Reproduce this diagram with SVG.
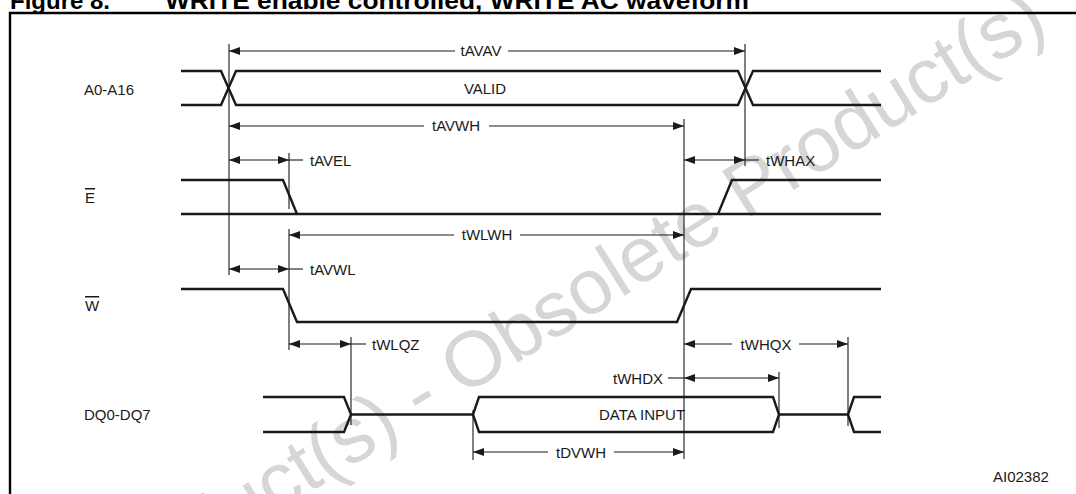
<svg xmlns="http://www.w3.org/2000/svg" width="1076" height="494" viewBox="0 0 1076 494">
<defs>
<marker id="ah" viewBox="0 0 11 8" refX="11" refY="4" markerWidth="11" markerHeight="8" markerUnits="userSpaceOnUse" orient="auto-start-reverse"><path d="M0,0 L11,4 L0,8 z" fill="#1a1a1a"/></marker>
</defs>
<style>
.sig{fill:none;stroke:#1a1a1a;stroke-width:2.4;stroke-linejoin:miter}
.dim{fill:none;stroke:#1a1a1a;stroke-width:1.1}
.s{marker-start:url(#ah)}
.e{marker-end:url(#ah)}
.b{marker-start:url(#ah);marker-end:url(#ah)}
.ref{fill:none;stroke:#1a1a1a;stroke-width:1.1}
text{font-family:"Liberation Sans",Arial,sans-serif;font-size:15px;fill:#1a1a1a}
.m{text-anchor:middle}
.r{text-anchor:end}
.t{font-weight:bold;font-size:24px;fill:#000}
.wm{font-size:78px;fill:#d6d6d6;text-anchor:middle}
</style>
<rect width="1076" height="494" fill="#fff"/>
<g id="watermark"><text class="wm" transform="translate(421,397) rotate(-32)" x="0" y="22">Obsolete Product(s) - Obsolete Product(s)</text></g>
<g id="title">
<text class="t" x="10" y="9">Figure 8.</text>
<text class="t" x="165" y="9" textLength="584" lengthAdjust="spacingAndGlyphs">WRITE enable controlled, WRITE AC waveform</text>
<path d="M10,494 V13 H1076" fill="none" stroke="#000" stroke-width="2.4"/>
</g>
<g id="labels">
<text x="84" y="95">A0-A16</text>
<text x="85" y="203" style="text-decoration:overline">E</text>
<text x="85" y="311" style="text-decoration:overline">W</text>
<text x="84" y="420">DQ0-DQ7</text>
</g>
<g id="sig-A">
<path class="sig" d="M181,71 H221 L236,105 H738 L753,71 H881"/>
<path class="sig" d="M181,105 H221 L236,71 H738 L753,105 H881"/>
<text class="m" x="485" y="94">VALID</text>
</g>
<g id="sig-E">
<path class="sig" d="M181,180 H283 L297,214"/>
<path class="sig" d="M181,214 H881"/>
<path class="sig" d="M718,214 L732,180 H881"/>
</g>
<g id="sig-W">
<path class="sig" d="M181,289 H283 L297,322 H677 L691,289 H881"/>
</g>
<g id="sig-DQ">
<path class="sig" d="M263,397 H344 L351,414.5 L344,432 H263"/>
<path class="sig" d="M351,414.5 H473"/>
<path class="sig" d="M773,397 H479 L473,414.5 L479,432 H773 L779,414.5 Z"/>
<path class="sig" d="M779,414.5 H848"/>
<path class="sig" d="M881,397 H854 L848,414.5 L854,432 H881"/>
<text class="m" x="642" y="420">DATA INPUT</text>
</g>
<g id="connectors">
<path class="ref" d="M229,44 V275 M745,44 V166 M684,119 V459 M289,153 V209 M289,229 V350 M351,337 V425 M848,337 V426 M779,372 V428 M473,410 V460"/>
<path class="dim s" d="M229,51 H455"/><path class="dim e" d="M508,51 H745"/>
<path class="dim s" d="M229,126 H424"/><path class="dim e" d="M489,126 H684"/>
<path class="dim b" d="M229,160 H289"/><path class="dim" d="M289,160 H303"/>
<path class="dim b" d="M684,160 H745"/><path class="dim" d="M745,160 H759"/>
<path class="dim s" d="M289,235 H454"/><path class="dim e" d="M520,235 H684"/>
<path class="dim b" d="M229,269 H289"/><path class="dim" d="M289,269 H303"/>
<path class="dim b" d="M289,344 H351"/><path class="dim" d="M351,344 H366"/>
<path class="dim s" d="M684,344 H732"/><path class="dim e" d="M799,344 H848"/>
<path class="dim b" d="M684,378 H779"/><path class="dim" d="M668,378 H684"/>
<path class="dim s" d="M473,452 H548"/><path class="dim e" d="M614,452 H684"/>
</g>
<g id="timing-labels">
<text class="m" x="481" y="56">tAVAV</text>
<text class="m" x="456" y="131">tAVWH</text>
<text x="310" y="166">tAVEL</text>
<text x="766" y="166">tWHAX</text>
<text class="m" x="487" y="240">tWLWH</text>
<text x="310" y="275">tAVWL</text>
<text x="372" y="350">tWLQZ</text>
<text class="m" x="766" y="350">tWHQX</text>
<text class="r" x="663" y="384">tWHDX</text>
<text class="m" x="581" y="458">tDVWH</text>
<text x="993" y="482">AI02382</text>
</g>
</svg>
